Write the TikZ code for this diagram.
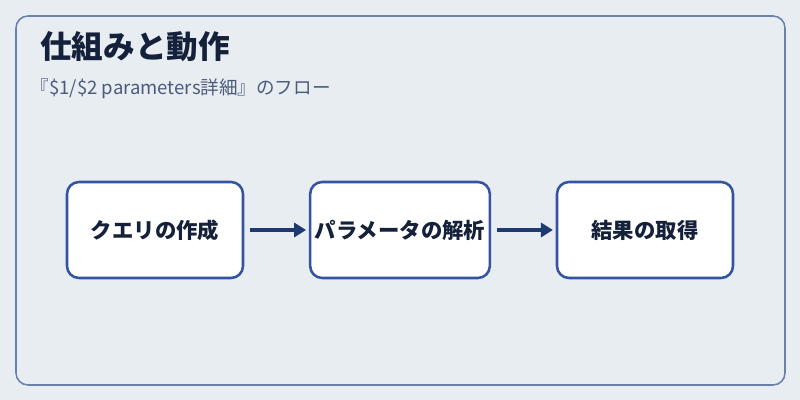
\documentclass[tikz,border=0pt]{standalone}
\usepackage{fontspec}
\setmainfont{Noto Sans CJK JP}
\usetikzlibrary{arrows.meta}
\definecolor{bgcol}{HTML}{E8EDF2}
\definecolor{framecol}{HTML}{6A81AA}
\definecolor{boxcol}{HTML}{3454A0}
\definecolor{arrowcol}{HTML}{1E3A70}
\definecolor{titlecol}{HTML}{15213A}
\definecolor{subcol}{HTML}{4B5B7A}
\begin{document}
\begin{tikzpicture}[
    stepbox/.style={draw=boxcol, fill=white, line width=1.8pt, rounded corners=0.3cm, minimum width=4.4cm, minimum height=2.4cm, align=center, font=\fontsize{15.2}{18}\selectfont\bfseries, text=titlecol},
    arrow/.style={-{Triangle[length=8.5pt,width=10pt]}, line width=2.8pt, draw=arrowcol, shorten <=4pt, shorten >=2pt}
]
% Hintergrund
\fill[bgcol] (0,0) rectangle (20,10);
\useasboundingbox (0,0) rectangle (20,10);
\draw[framecol, line width=1.1pt, rounded corners=0.3cm] (0.4,0.375) rectangle (19.625,9.6);

% Titel
\node[anchor=west, inner sep=0pt, text=titlecol, font=\fontsize{22.5}{26}\selectfont\bfseries] (title) at (1.0,8.83) {仕組みと動作};
\node[anchor=west, inner sep=0pt, text=subcol, font=\fontsize{13.2}{15}\selectfont] (subtitle) at (0.76,7.78) {『\$1/\$2 parameters詳細』のフロー};

% Schritte
\node[stepbox] (query) at (3.875,4.25) {クエリの作成};
\node[stepbox] (parse) at (10,4.25) {パラメータの解析};
\node[stepbox] (result) at (16.125,4.25) {結果の取得};

% Fluss
\draw[arrow] (query) -- (parse);
\draw[arrow] (parse) -- (result);

\end{tikzpicture}
\end{document}
